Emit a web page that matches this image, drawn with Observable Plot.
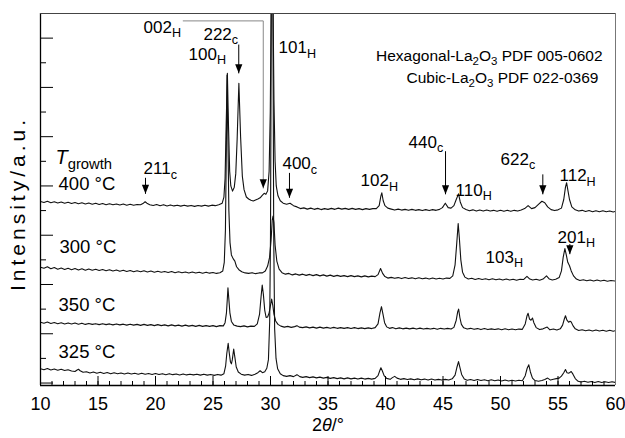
<!DOCTYPE html>
<html><head><meta charset="utf-8">
<script src="https://cdn.jsdelivr.net/npm/d3@7"></script>
<script src="https://cdn.jsdelivr.net/npm/@observablehq/plot@0.6"></script>
<style>html,body{margin:0;padding:0;background:#fff}</style>
</head><body><div id="chart"></div>
<script>
// ---- data (2θ in degrees, intensity in arbitrary stacked units) ----
const t400 = [[10.0,7.37],[10.3,7.33],[10.6,7.38],[10.9,7.32],[11.2,7.36],[11.5,7.31],[11.8,7.35],[12.1,7.30],[12.4,7.34],[12.7,7.29],[13.0,7.33],[13.3,7.28],[13.6,7.32],[13.9,7.27],[14.2,7.31],[14.5,7.26],[14.8,7.30],[15.1,7.25],[15.4,7.29],[15.7,7.24],[16.0,7.28],[16.3,7.24],[16.6,7.27],[16.9,7.23],[17.2,7.27],[17.5,7.22],[17.8,7.26],[18.1,7.22],[18.4,7.25],[18.7,7.24],[18.95,7.30],[19.1,7.36],[19.25,7.30],[19.5,7.24],[19.8,7.21],[20.1,7.25],[20.4,7.20],[20.7,7.24],[21.0,7.19],[21.3,7.23],[21.6,7.19],[21.9,7.22],[22.2,7.18],[22.5,7.22],[22.8,7.18],[23.1,7.21],[23.4,7.17],[23.7,7.21],[24.0,7.18],[24.3,7.22],[24.6,7.18],[24.9,7.22],[25.2,7.20],[25.5,7.24],[25.8,7.30],[25.95,7.55],[26.05,8.30],[26.15,10.6],[26.25,12.57],[26.35,10.4],[26.45,8.6],[26.55,8.0],[26.7,7.79],[26.85,7.95],[26.98,8.5],[27.1,9.9],[27.25,12.17],[27.4,10.0],[27.55,8.4],[27.7,7.85],[27.9,7.55],[28.1,7.47],[28.3,7.42],[28.5,7.39],[28.7,7.43],[28.9,7.47],[29.1,7.52],[29.3,7.63],[29.45,7.70],[29.6,7.66],[29.75,7.80],[29.88,8.6],[29.98,11.0],[30.08,16.5],[30.2,16.5],[30.3,11.5],[30.4,9.0],[30.5,8.0],[30.65,7.6],[30.85,7.40],[31.1,7.30],[31.4,7.26],[31.7,7.30],[32.0,7.20],[32.3,7.15],[32.6,7.08],[32.9,7.11],[33.2,7.06],[33.5,7.10],[33.8,7.05],[34.1,7.09],[34.4,7.04],[34.7,7.08],[35.0,7.05],[35.3,7.09],[35.6,7.05],[35.9,7.10],[36.2,7.06],[36.5,7.09],[36.8,7.05],[37.1,7.09],[37.4,7.05],[37.7,7.08],[38.0,7.04],[38.3,7.08],[38.6,7.05],[38.9,7.08],[39.2,7.08],[39.45,7.20],[39.6,7.60],[39.68,7.72],[39.8,7.40],[39.95,7.20],[40.2,7.10],[40.5,7.06],[40.8,7.02],[41.1,7.06],[41.4,7.02],[41.7,7.05],[42.0,7.01],[42.3,7.05],[42.6,7.01],[42.9,7.04],[43.2,7.00],[43.5,7.04],[43.8,7.00],[44.1,7.04],[44.4,7.01],[44.7,7.05],[44.95,7.12],[45.2,7.30],[45.45,7.12],[45.7,7.10],[45.95,7.20],[46.15,7.45],[46.35,7.68],[46.5,7.35],[46.7,7.12],[47.0,7.04],[47.3,6.99],[47.6,7.03],[47.9,6.98],[48.2,7.02],[48.5,6.98],[48.8,7.02],[49.1,6.98],[49.4,7.01],[49.7,6.97],[50.0,7.01],[50.3,6.97],[50.6,7.01],[50.9,6.97],[51.2,7.01],[51.5,6.98],[51.8,7.02],[52.1,7.08],[52.4,7.20],[52.7,7.08],[53.0,7.12],[53.3,7.25],[53.6,7.38],[53.85,7.32],[54.1,7.15],[54.4,7.04],[54.7,7.00],[55.0,7.03],[55.3,7.10],[55.5,7.45],[55.65,7.95],[55.75,8.13],[55.85,7.85],[56.0,7.45],[56.2,7.15],[56.5,7.03],[56.8,6.98],[57.1,7.01],[57.4,6.96],[57.7,7.00],[58.0,6.95],[58.3,6.99],[58.6,6.95],[58.9,6.99],[59.2,6.95],[59.5,6.98],[59.8,6.94],[60.0,6.97]];

const t300 = [[10.0,4.70],[10.3,4.66],[10.6,4.72],[10.9,4.64],[11.2,4.69],[11.5,4.62],[11.8,4.67],[12.1,4.61],[12.4,4.66],[12.7,4.60],[13.0,4.65],[13.3,4.59],[13.6,4.64],[13.9,4.58],[14.2,4.63],[14.5,4.58],[14.8,4.62],[15.1,4.57],[15.4,4.61],[15.7,4.56],[16.0,4.60],[16.3,4.55],[16.6,4.59],[16.9,4.54],[17.2,4.58],[17.5,4.53],[17.8,4.57],[18.1,4.52],[18.4,4.56],[18.7,4.52],[19.0,4.56],[19.3,4.51],[19.6,4.55],[19.9,4.50],[20.2,4.54],[20.5,4.50],[20.8,4.53],[21.1,4.49],[21.4,4.53],[21.7,4.48],[22.0,4.52],[22.3,4.48],[22.6,4.51],[22.9,4.47],[23.2,4.51],[23.5,4.47],[23.8,4.50],[24.1,4.46],[24.4,4.50],[24.7,4.46],[25.0,4.49],[25.3,4.45],[25.6,4.48],[25.85,4.55],[25.98,4.9],[26.08,6.2],[26.16,9.5],[26.22,12.5],[26.3,9.8],[26.38,7.0],[26.48,5.7],[26.6,5.2],[26.75,5.05],[26.9,4.95],[27.05,4.72],[27.25,4.60],[27.5,4.52],[27.8,4.47],[28.1,4.45],[28.4,4.48],[28.7,4.44],[29.0,4.47],[29.3,4.47],[29.55,4.55],[29.75,4.75],[29.92,5.1],[30.05,5.8],[30.15,6.6],[30.22,6.78],[30.3,6.5],[30.4,5.6],[30.55,4.95],[30.75,4.62],[31.0,4.48],[31.3,4.42],[31.6,4.45],[31.9,4.39],[32.2,4.43],[32.5,4.38],[32.8,4.42],[33.1,4.37],[33.4,4.41],[33.7,4.36],[34.0,4.40],[34.3,4.35],[34.6,4.39],[34.9,4.34],[35.2,4.38],[35.5,4.33],[35.8,4.37],[36.1,4.33],[36.4,4.36],[36.7,4.32],[37.0,4.36],[37.3,4.32],[37.6,4.35],[37.9,4.31],[38.2,4.35],[38.5,4.31],[38.8,4.34],[39.1,4.32],[39.35,4.40],[39.57,4.65],[39.75,4.45],[39.95,4.32],[40.2,4.26],[40.5,4.29],[40.8,4.25],[41.1,4.28],[41.4,4.24],[41.7,4.28],[42.0,4.24],[42.3,4.27],[42.6,4.23],[42.9,4.27],[43.2,4.23],[43.5,4.26],[43.8,4.22],[44.1,4.26],[44.4,4.22],[44.7,4.25],[45.0,4.22],[45.3,4.26],[45.6,4.25],[45.85,4.35],[46.05,4.80],[46.2,5.70],[46.32,6.47],[46.42,5.90],[46.55,5.00],[46.7,4.50],[46.9,4.30],[47.2,4.22],[47.5,4.25],[47.8,4.20],[48.1,4.24],[48.4,4.20],[48.7,4.23],[49.0,4.19],[49.3,4.23],[49.6,4.19],[49.9,4.22],[50.2,4.18],[50.5,4.22],[50.8,4.18],[51.1,4.21],[51.4,4.17],[51.7,4.21],[52.0,4.20],[52.3,4.33],[52.55,4.22],[52.8,4.18],[53.1,4.21],[53.4,4.17],[53.7,4.22],[54.0,4.35],[54.25,4.22],[54.5,4.18],[54.8,4.21],[55.1,4.28],[55.3,4.55],[55.45,5.10],[55.6,5.46],[55.72,5.20],[55.85,4.90],[56.0,4.76],[56.15,4.55],[56.35,4.35],[56.6,4.22],[56.9,4.16],[57.2,4.19],[57.5,4.15],[57.8,4.18],[58.1,4.14],[58.4,4.18],[58.7,4.14],[59.0,4.17],[59.3,4.13],[59.6,4.16],[60.0,4.14]];

const t350 = [[10.0,2.47],[10.3,2.43],[10.6,2.48],[10.9,2.42],[11.2,2.46],[11.5,2.41],[11.8,2.45],[12.1,2.40],[12.4,2.44],[12.7,2.40],[13.0,2.44],[13.3,2.39],[13.6,2.43],[13.9,2.38],[14.2,2.42],[14.5,2.38],[14.8,2.41],[15.1,2.37],[15.4,2.41],[15.7,2.37],[16.0,2.40],[16.3,2.36],[16.6,2.40],[16.9,2.36],[17.2,2.39],[17.5,2.35],[17.8,2.39],[18.1,2.35],[18.4,2.38],[18.7,2.34],[19.0,2.38],[19.3,2.34],[19.6,2.37],[19.9,2.33],[20.2,2.37],[20.5,2.33],[20.8,2.36],[21.1,2.32],[21.4,2.36],[21.7,2.32],[22.0,2.35],[22.3,2.31],[22.6,2.35],[22.9,2.31],[23.2,2.34],[23.5,2.30],[23.8,2.34],[24.1,2.30],[24.4,2.33],[24.7,2.30],[25.0,2.33],[25.3,2.29],[25.6,2.33],[25.9,2.32],[26.05,2.45],[26.17,2.85],[26.25,3.45],[26.3,3.87],[26.37,3.45],[26.47,2.85],[26.6,2.50],[26.8,2.36],[27.1,2.31],[27.4,2.29],[27.7,2.32],[28.0,2.28],[28.3,2.31],[28.6,2.30],[28.85,2.40],[29.05,2.80],[29.18,3.50],[29.28,3.98],[29.38,3.60],[29.5,2.95],[29.62,2.66],[29.75,2.68],[29.88,2.85],[29.98,3.10],[30.1,3.41],[30.2,3.15],[30.3,2.80],[30.45,2.52],[30.65,2.38],[30.9,2.31],[31.2,2.27],[31.5,2.30],[31.8,2.26],[32.1,2.29],[32.3,2.33],[32.5,2.27],[32.8,2.25],[33.1,2.28],[33.4,2.24],[33.7,2.27],[34.0,2.23],[34.3,2.27],[34.6,2.23],[34.9,2.26],[35.2,2.22],[35.5,2.26],[35.8,2.22],[36.1,2.25],[36.4,2.22],[36.7,2.25],[37.0,2.21],[37.3,2.25],[37.6,2.21],[37.9,2.24],[38.2,2.21],[38.5,2.24],[38.8,2.21],[39.1,2.25],[39.35,2.40],[39.52,2.85],[39.65,3.10],[39.78,2.80],[39.92,2.45],[40.1,2.28],[40.35,2.22],[40.6,2.25],[40.9,2.20],[41.2,2.24],[41.5,2.20],[41.8,2.23],[42.1,2.20],[42.4,2.23],[42.7,2.19],[43.0,2.23],[43.3,2.19],[43.6,2.22],[43.9,2.19],[44.2,2.22],[44.5,2.18],[44.8,2.22],[45.1,2.19],[45.4,2.22],[45.7,2.19],[45.95,2.26],[46.15,2.55],[46.28,2.90],[46.36,3.00],[46.47,2.65],[46.6,2.38],[46.8,2.24],[47.1,2.19],[47.4,2.22],[47.7,2.18],[48.0,2.21],[48.3,2.17],[48.6,2.21],[48.9,2.17],[49.2,2.20],[49.5,2.17],[49.8,2.20],[50.1,2.16],[50.4,2.20],[50.7,2.16],[51.0,2.19],[51.3,2.16],[51.6,2.19],[51.9,2.18],[52.15,2.40],[52.3,2.72],[52.4,2.83],[52.52,2.60],[52.65,2.55],[52.78,2.64],[52.9,2.45],[53.1,2.25],[53.4,2.17],[53.7,2.20],[54.06,2.27],[54.3,2.16],[54.6,2.19],[54.9,2.15],[55.2,2.20],[55.4,2.35],[55.55,2.60],[55.65,2.73],[55.78,2.55],[55.92,2.47],[56.05,2.51],[56.15,2.48],[56.3,2.33],[56.5,2.20],[56.8,2.13],[57.1,2.16],[57.4,2.12],[57.7,2.15],[58.0,2.11],[58.3,2.15],[58.6,2.11],[58.9,2.14],[59.2,2.10],[59.5,2.14],[59.8,2.10],[60.0,2.13]];

const t325 = [[10.0,0.58],[10.3,0.54],[10.6,0.59],[10.9,0.53],[11.2,0.57],[11.5,0.52],[11.8,0.56],[12.1,0.51],[12.4,0.54],[12.7,0.49],[13.0,0.47],[13.15,0.52],[13.3,0.56],[13.45,0.50],[13.7,0.44],[14.0,0.46],[14.3,0.41],[14.6,0.45],[14.9,0.40],[15.2,0.44],[15.5,0.39],[15.8,0.43],[16.1,0.38],[16.4,0.42],[16.7,0.38],[17.0,0.41],[17.3,0.37],[17.6,0.41],[17.9,0.37],[18.2,0.40],[18.5,0.36],[18.8,0.40],[19.1,0.36],[19.4,0.39],[19.7,0.35],[20.0,0.39],[20.3,0.35],[20.6,0.38],[20.9,0.34],[21.2,0.38],[21.5,0.34],[21.8,0.37],[22.1,0.33],[22.4,0.37],[22.7,0.33],[23.0,0.36],[23.3,0.33],[23.6,0.36],[23.9,0.32],[24.2,0.36],[24.5,0.32],[24.8,0.35],[25.1,0.31],[25.4,0.35],[25.7,0.32],[25.95,0.38],[26.1,0.70],[26.2,1.20],[26.32,1.61],[26.42,1.20],[26.52,0.85],[26.6,0.78],[26.68,0.95],[26.8,1.38],[26.9,1.05],[27.02,0.65],[27.2,0.45],[27.45,0.36],[27.75,0.32],[28.05,0.35],[28.35,0.31],[28.65,0.36],[28.9,0.42],[29.1,0.50],[29.3,0.42],[29.5,0.46],[29.68,0.60],[29.82,0.95],[29.93,2.5],[30.0,6.0],[30.08,16.5],[30.2,16.5],[30.28,6.0],[30.36,2.2],[30.48,1.0],[30.62,0.58],[30.85,0.38],[31.1,0.30],[31.4,0.27],[31.7,0.30],[32.0,0.26],[32.3,0.34],[32.55,0.26],[32.8,0.23],[33.1,0.26],[33.4,0.22],[33.7,0.25],[34.0,0.21],[34.3,0.24],[34.6,0.20],[34.9,0.23],[35.2,0.19],[35.5,0.22],[35.8,0.18],[36.1,0.21],[36.4,0.17],[36.7,0.21],[37.0,0.17],[37.3,0.20],[37.6,0.16],[37.9,0.20],[38.2,0.16],[38.5,0.19],[38.8,0.16],[39.1,0.19],[39.35,0.30],[39.5,0.50],[39.6,0.62],[39.72,0.50],[39.88,0.30],[40.1,0.19],[40.4,0.15],[40.6,0.22],[40.8,0.27],[41.0,0.20],[41.3,0.15],[41.6,0.18],[41.9,0.14],[42.2,0.17],[42.5,0.13],[42.8,0.17],[43.1,0.13],[43.4,0.16],[43.7,0.12],[44.0,0.16],[44.3,0.12],[44.6,0.15],[44.9,0.12],[45.2,0.15],[45.5,0.12],[45.8,0.17],[46.05,0.32],[46.2,0.62],[46.35,0.87],[46.48,0.62],[46.62,0.35],[46.85,0.16],[47.1,0.11],[47.4,0.14],[47.7,0.10],[48.0,0.14],[48.3,0.10],[48.6,0.13],[48.9,0.09],[49.2,0.13],[49.5,0.09],[49.8,0.12],[50.1,0.08],[50.4,0.12],[50.7,0.08],[51.0,0.11],[51.3,0.08],[51.6,0.11],[51.9,0.09],[52.15,0.30],[52.32,0.60],[52.46,0.74],[52.6,0.45],[52.78,0.20],[53.0,0.10],[53.3,0.07],[53.6,0.10],[53.85,0.14],[54.1,0.20],[54.35,0.12],[54.6,0.15],[54.85,0.18],[55.1,0.20],[55.3,0.28],[55.5,0.42],[55.65,0.55],[55.78,0.42],[55.95,0.40],[56.15,0.47],[56.3,0.36],[56.5,0.18],[56.75,0.07],[57.0,0.04],[57.3,0.07],[57.6,0.03],[57.9,0.06],[58.2,0.02],[58.5,0.06],[58.8,0.02],[59.1,0.05],[59.4,0.02],[59.7,0.05],[60.0,0.02]];

const seriesNames = ["400 °C", "300 °C", "350 °C", "325 °C"];
const seriesPoints = [t400, t300, t350, t325];

const xTicks = [10, 15, 20, 25, 30, 35, 40, 45, 50, 55, 60];
const yMajorTicks = [0, 2, 4, 6, 8, 10, 12, 14];
const yMinorTicks = [1, 3, 5, 7, 9, 11, 13];

const peakLabels = [
  {text: "002_{H}", x: 18.96, y: 14.22},
  {text: "222_{c}", x: 24.17, y: 13.93},
  {text: "100_{H}", x: 22.87, y: 13.13},
  {text: "101_{H}", x: 30.70, y: 13.39},
  {text: "211_{c}", x: 18.96, y: 8.48},
  {text: "400_{c}", x: 31.04, y: 8.68},
  {text: "102_{H}", x: 37.83, y: 8.00},
  {text: "440_{c}", x: 42.00, y: 9.55},
  {text: "110_{H}", x: 46.09, y: 7.60},
  {text: "622_{c}", x: 50.00, y: 8.87},
  {text: "112_{H}", x: 55.13, y: 8.20},
  {text: "103_{H}", x: 48.70, y: 4.89},
  {text: "201_{H}", x: 54.96, y: 5.70}
];
const tempLabels = [
  {text: "400 °C", x: 11.57, y: 7.83},
  {text: "300 °C", x: 11.65, y: 5.26},
  {text: "350 °C", x: 11.57, y: 2.94},
  {text: "325 °C", x: 11.57, y: 1.02}
];
const growthLabel = [{text: "*T*_{growth}", x: 11.30, y: 8.89}];
const pdfLabels = [
  {text: "Hexagonal-La_{2}O_{3} PDF 005-0602", x: 58.87, y: 13.06},
  {text: "Cubic-La_{2}O_{3} PDF 022-0369", x: 58.52, y: 12.18}
];
const arrows = [
  {x: 19.13, y1: 8.33, y2: 7.68},
  {x: 27.24, y1: 13.74, y2: 12.57},
  {x: 31.65, y1: 8.53, y2: 7.52},
  {x: 45.22, y1: 9.41, y2: 7.66},
  {x: 53.68, y1: 8.47, y2: 7.66},
  {x: 56.03, y1: 5.64, y2: 5.23}
];
const leader002 = [{x: 22.41, y: 14.70}, {x: 29.37, y: 14.70}, {x: 29.37, y: 7.91}];

// ---- chart ----
const rows = seriesNames.flatMap((name, i) => seriesPoints[i].map(([x, y]) => ({name, x, y})));
const W = 625, H = 438, mt = 13, mb = 53, ml = 40, mr = 10;
const pw = W - ml - mr, ph = H - mt - mb;
const font = "'Liberation Sans', Arial, Helvetica, sans-serif";
const head = {draw(ctx) { ctx.moveTo(0, 0); ctx.lineTo(-3.6, -9); ctx.lineTo(3.6, -9); ctx.closePath(); }};

const chart = Plot.plot({
  width: W, height: H,
  marginTop: mt, marginBottom: mb, marginLeft: ml, marginRight: mr,
  style: {fontFamily: font, background: "#fff", color: "#000"},
  x: {domain: [10, 60], axis: null},
  y: {domain: [-0.1, 15], axis: null},
  marks: [
    Plot.line(rows, {x: "x", y: "y", z: "name", stroke: "#111", strokeWidth: 1.1, clip: true}),
    Plot.tickX(d3.range(10, 61), {x: d => d, insetTop: ph - 4, stroke: "#000"}),
    Plot.tickX(xTicks, {x: d => d, insetTop: ph - 9, stroke: "#000"}),
    Plot.tickY(yMinorTicks, {y: d => d, insetRight: pw - 6, stroke: "#000"}),
    Plot.tickY(yMajorTicks, {y: d => d, insetRight: pw - 13, stroke: "#000"}),
    Plot.ruleX([10], {stroke: "#000", strokeWidth: 1.3}),
    Plot.ruleX([60], {stroke: "#777"}),
    Plot.ruleY([-0.1], {stroke: "#000", strokeWidth: 1.3}),
    Plot.ruleY([15], {stroke: "#444"}),
    Plot.axisX(xTicks, {tickSize: 0, tickPadding: 12, fontSize: 18, tickFormat: d => String(d), label: null}),
    Plot.text(["2*θ*/°"], {frameAnchor: "bottom", dy: 45, fontSize: 18, lineAnchor: "bottom", textAnchor: "middle"}),
    Plot.text(["Intensity/a.u."], {frameAnchor: "left", rotate: -90, dx: -22, dy: 4, fontSize: 21, lineAnchor: "middle", textAnchor: "middle"}),
    Plot.line(leader002, {x: "x", y: "y", stroke: "#888", strokeWidth: 1}),
    Plot.dot([leader002[2]], {x: "x", y: "y", symbol: head, fill: "#000", stroke: null, r: 3}),
    Plot.link(arrows, {x1: "x", x2: "x", y1: "y1", y2: "y2", stroke: "#000", strokeWidth: 1}),
    Plot.dot(arrows, {x: "x", y: "y2", symbol: head, fill: "#000", stroke: null, r: 3}),
    Plot.text(peakLabels, {x: "x", y: "y", text: "text", textAnchor: "start", lineAnchor: "bottom", fontSize: 17}),
    Plot.text(tempLabels, {x: "x", y: "y", text: "text", textAnchor: "start", lineAnchor: "bottom", fontSize: 18.5}),
    Plot.text(growthLabel, {x: "x", y: "y", text: "text", textAnchor: "start", lineAnchor: "bottom", fontSize: 20}),
    Plot.text(pdfLabels, {x: "x", y: "y", text: "text", textAnchor: "end", lineAnchor: "bottom", fontSize: 15.5})
  ]
});
document.getElementById("chart").append(chart);

// rich text: _{...} subscript, *...* italic
const svgNS = "http://www.w3.org/2000/svg";
chart.querySelectorAll("text").forEach(el => {
  const raw = el.textContent;
  if (raw === "Intensity/a.u.") { el.setAttribute("letter-spacing", "4"); return; }
  if (!/_\{|\*/.test(raw)) return;
  const fs = parseFloat(getComputedStyle(el).fontSize);
  const re = /_\{([^}]*)\}|\*([^*]*)\*|([^_*]+)/g;
  const parts = [];
  let m;
  while ((m = re.exec(raw))) {
    if (m[1] !== undefined) parts.push({t: m[1], sub: true});
    else if (m[2] !== undefined) parts.push({t: m[2], it: true});
    else parts.push({t: m[3]});
  }
  while (el.firstChild) el.removeChild(el.firstChild);
  let shift = 0;
  for (const p of parts) {
    const ts = document.createElementNS(svgNS, "tspan");
    ts.textContent = p.t;
    const target = p.sub ? 0.27 * fs : 0;
    if (target !== shift) { ts.setAttribute("dy", (target - shift).toFixed(2)); shift = target; }
    if (p.sub) ts.setAttribute("font-size", (0.74 * fs).toFixed(2));
    if (p.it) ts.setAttribute("font-style", "italic");
    el.appendChild(ts);
  }
});
</script></body></html>
